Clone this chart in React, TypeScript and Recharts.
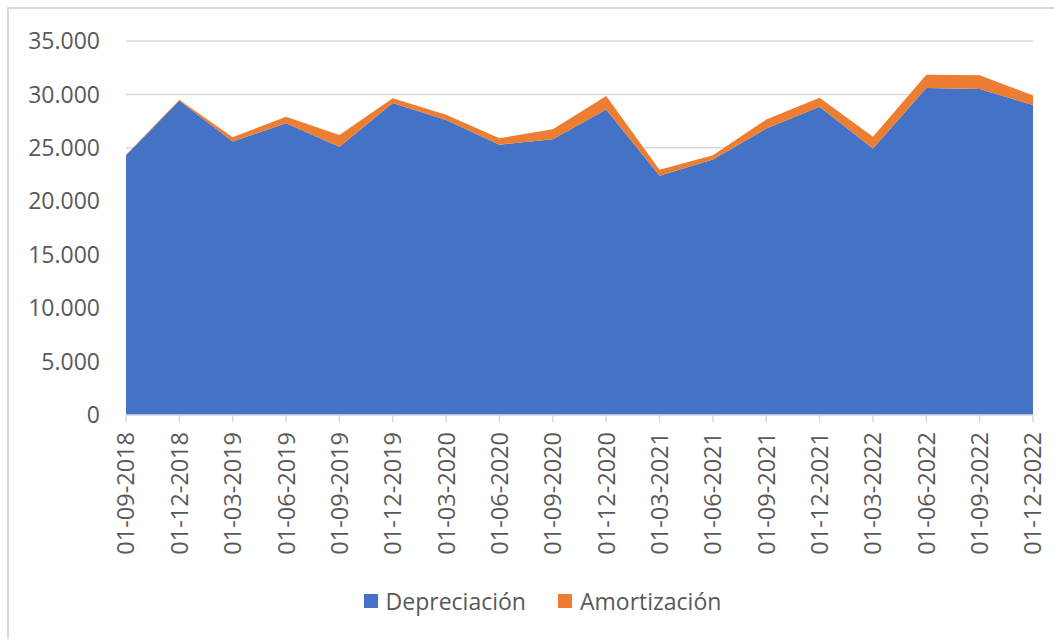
import { Area, AreaChart, CartesianGrid, Legend, XAxis, YAxis } from 'recharts';

const fechas = [
  '01-09-2018', '01-12-2018', '01-03-2019', '01-06-2019', '01-09-2019', '01-12-2019',
  '01-03-2020', '01-06-2020', '01-09-2020', '01-12-2020', '01-03-2021', '01-06-2021',
  '01-09-2021', '01-12-2021', '01-03-2022', '01-06-2022', '01-09-2022', '01-12-2022',
];
const depreciacion = [
  24300, 29400, 25600, 27300, 25100, 29200, 27600, 25300, 25800, 28600, 22400, 23900,
  26800, 28850, 24950, 30600, 30500, 29000,
];
const amortizacion = [
  50, 100, 400, 600, 1100, 450, 500, 600, 950, 1250, 550, 400, 850, 850, 1100, 1250, 1300, 900,
];
const yTicks = [0, 5000, 10000, 15000, 20000, 25000, 30000, 35000];

const data = fechas.map((fecha, i) => ({
  fecha,
  Depreciación: depreciacion[i],
  Amortización: amortizacion[i],
}));

const FONT = '"Open Sans", sans-serif';
const GRAY = '#595959';
const BLUE = '#4472c4';
const ORANGE = '#ed7d31';

const fmt = (v: number) => String(v).replace(/\B(?=(\d{3})+(?!\d))/g, '.');

const DateTick = ({ x, y, payload }: any) => (
  <g transform={`translate(${x},${y})`}>
    <text
      transform="rotate(-90)"
      textAnchor="end"
      dy="0.36em"
      fill={GRAY}
      fontSize={23.5}
      fontFamily={FONT}
    >
      {payload.value}
    </text>
  </g>
);

const LegendBox = () => (
  <div
    style={{
      display: 'flex',
      justifyContent: 'center',
      alignItems: 'center',
      paddingTop: 20,
      paddingLeft: 52,
      fontFamily: FONT,
      fontSize: 23,
      color: GRAY,
    }}
  >
    {[
      { name: 'Depreciación', color: BLUE },
      { name: 'Amortización', color: ORANGE },
    ].map((it, i) => (
      <span key={it.name} style={{ display: 'flex', alignItems: 'center', marginLeft: i ? 32 : 0 }}>
        <span style={{ width: 14, height: 14, background: it.color, marginRight: 8 }} />
        {it.name}
      </span>
    ))}
  </div>
);

export default function App() {
  return (
    <div style={{ position: 'absolute', left: 0, top: 0, width: 1054, height: 639, overflow: 'hidden', background: '#fff' }}>
      <div
        style={{
          position: 'absolute',
          left: 7,
          top: 7,
          width: 1100,
          height: 700,
          borderLeft: '2px solid #d9d9d9',
          borderTop: '2px solid #d9d9d9',
        }}
      />
      <div style={{ position: 'absolute', left: 0, top: 0 }}>
        <AreaChart width={1054} height={639} data={data} margin={{ top: 41, right: 21, left: 0, bottom: 10 }}>
          <CartesianGrid vertical={false} stroke="#d9d9d9" strokeWidth={1.5} />
          <XAxis
            dataKey="fecha"
            interval={0}
            height={150}
            stroke="#d9d9d9"
            strokeWidth={1.5}
            tickSize={7}
            tickMargin={10}
            tick={<DateTick />}
          />
          <YAxis
            width={126}
            domain={[0, 35000]}
            ticks={yTicks}
            axisLine={false}
            tickLine={false}
            tickMargin={20}
            tickFormatter={fmt}
            tick={{ fill: GRAY, fontSize: 23, fontFamily: FONT }}
          />
          <Legend
            verticalAlign="bottom"
            wrapperStyle={{ height: 64 }}
            content={<LegendBox />}
          />
          <Area
            type="linear"
            dataKey="Depreciación"
            stackId="1"
            stroke="none"
            fill={BLUE}
            fillOpacity={1}
            isAnimationActive={false}
          />
          <Area
            type="linear"
            dataKey="Amortización"
            stackId="1"
            stroke="none"
            fill={ORANGE}
            fillOpacity={1}
            isAnimationActive={false}
          />
        </AreaChart>
      </div>
    </div>
  );
}
